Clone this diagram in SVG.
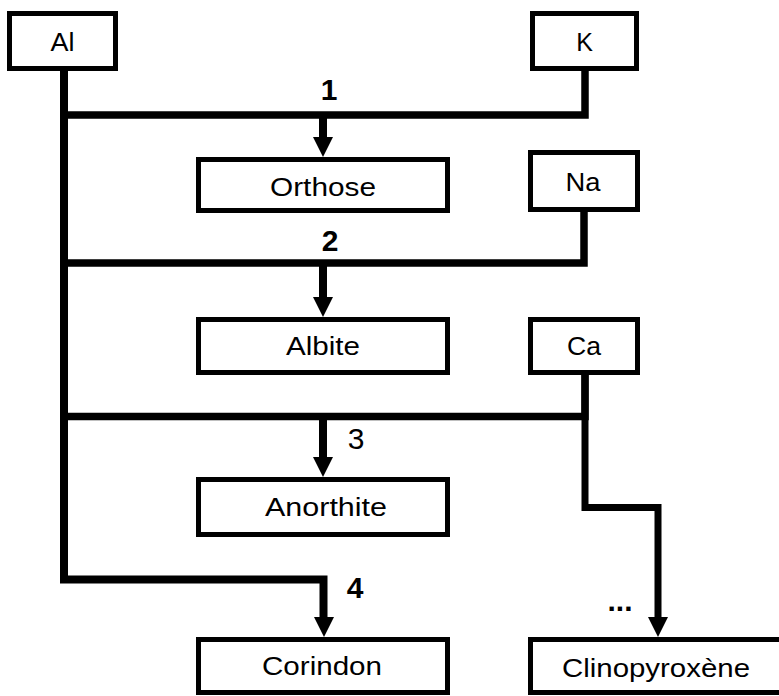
<svg xmlns="http://www.w3.org/2000/svg" width="779" height="696" viewBox="0 0 779 696">
  <style>
    .box { fill: #fff; stroke: #000; stroke-width: 5; }
    .lbl { font-family: "Liberation Sans", Arial, sans-serif; font-size: 25px; fill: #000; text-anchor: middle; }
    .num { font-family: "Liberation Sans", Arial, sans-serif; font-size: 30px; font-weight: bold; fill: #000; text-anchor: middle; }
    .wire { fill: none; stroke: #000; stroke-width: 7.5; stroke-linejoin: miter; stroke-linecap: butt; }
  </style>
  <defs>
    <!-- arrowhead with its tip at (0,0), pointing down -->
    <path id="head" d="M-10,-20 L10,-20 L0,0 Z" fill="#000"/>
  </defs>
  <rect width="779" height="696" fill="#fff"/>

  <g id="connectors">
    <!-- Al trunk down to Corindon -->
    <path class="wire" d="M64 70 V579.5 H323.5 V622" style="stroke-width:8"/>
    <!-- reaction 1: Al + K -->
    <path class="wire" d="M64 115 H585 V70"/>
    <path class="wire" d="M323 115 V142" style="stroke-width:8"/>
    <!-- reaction 2: Al + Na -->
    <path class="wire" d="M64 263 H584 V211"/>
    <path class="wire" d="M323 263 V302" style="stroke-width:8"/>
    <!-- reaction 3: Al + Ca -->
    <path class="wire" d="M64 416.5 H585 V374"/>
    <path class="wire" d="M323 416 V462" style="stroke-width:8"/>
    <!-- Ca to Clinopyroxène -->
    <path class="wire" d="M585 374 V507.5 H658 V622" style="stroke-width:7"/>
    <use href="#head" transform="translate(323,157)"/>
    <use href="#head" transform="translate(323,317)"/>
    <use href="#head" transform="translate(323,477)"/>
    <use href="#head" transform="translate(324,637)"/>
    <use href="#head" transform="translate(658,637)"/>
  </g>

  <g id="labels">
    <text class="num" x="329" y="100">1</text>
    <text class="num" x="330" y="251">2</text>
    <text class="num" x="356" y="449" style="font-weight:normal">3</text>
    <text class="num" x="355" y="598">4</text>
    <text class="num" x="620" y="611">...</text>
  </g>

  <g id="node-al">
    <rect class="box" x="9.5" y="13.5" width="106" height="55"/>
    <text class="lbl" x="62.5" y="51" textLength="24" lengthAdjust="spacingAndGlyphs">Al</text>
  </g>
  <g id="node-k">
    <rect class="box" x="532.5" y="13.5" width="104" height="55"/>
    <text class="lbl" x="584.5" y="51">K</text>
  </g>
  <g id="node-na">
    <rect class="box" x="530.5" y="152.5" width="107" height="57"/>
    <text class="lbl" x="583" y="191" textLength="35" lengthAdjust="spacingAndGlyphs">Na</text>
  </g>
  <g id="node-ca">
    <rect class="box" x="530.5" y="319.5" width="107" height="53"/>
    <text class="lbl" x="584" y="355" textLength="34" lengthAdjust="spacingAndGlyphs">Ca</text>
  </g>
  <g id="node-orthose">
    <rect class="box" x="198.5" y="159.5" width="249" height="51"/>
    <text class="lbl" x="323" y="196" textLength="106" lengthAdjust="spacingAndGlyphs">Orthose</text>
  </g>
  <g id="node-albite">
    <rect class="box" x="198.5" y="319.5" width="249" height="53"/>
    <text class="lbl" x="323" y="355" textLength="74" lengthAdjust="spacingAndGlyphs">Albite</text>
  </g>
  <g id="node-anorthite">
    <rect class="box" x="198.5" y="479.5" width="249" height="55"/>
    <text class="lbl" x="326" y="516" textLength="122" lengthAdjust="spacingAndGlyphs">Anorthite</text>
  </g>
  <g id="node-corindon">
    <rect class="box" x="198.5" y="639.5" width="249" height="53"/>
    <text class="lbl" x="322" y="675" textLength="120" lengthAdjust="spacingAndGlyphs">Corindon</text>
  </g>
  <g id="node-clinopyroxene">
    <rect class="box" x="530.5" y="639.5" width="260" height="53"/>
    <text class="lbl" x="656" y="677" textLength="188" lengthAdjust="spacingAndGlyphs">Clinopyroxène</text>
  </g>
</svg>
